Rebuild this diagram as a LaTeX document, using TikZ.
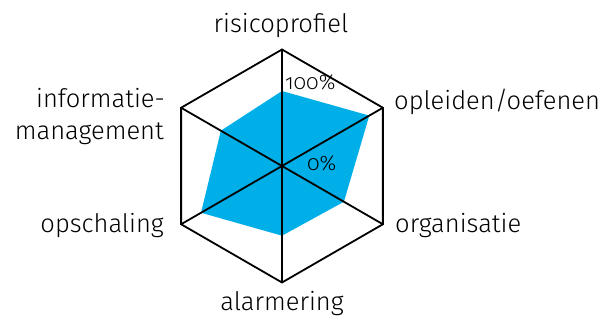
\documentclass[tikz,border=0pt]{standalone}
\usepackage{fontspec}
\setmainfont{Fira Sans Light}[BoldFont=Fira Sans]
\newfontfamily\pctfont[Numbers=OldStyle]{Fira Sans Light}
\usetikzlibrary{positioning}

\definecolor{spiderblue}{RGB}{0,174,232}

\tikzset{
  axisline/.style={draw=black,line width=1.8pt,line join=miter},
  score/.style={fill=spiderblue},
  axislabel/.style={inner sep=0pt,font=\fontsize{25.5}{32}\selectfont},
  pct/.style={inner sep=0pt,font=\pctfont\fontsize{21}{24}\selectfont}
}

\begin{document}
\begin{tikzpicture}[x=1pt,y=1pt]

      \useasboundingbox (0,0) rectangle (607,-320);

      \begin{scope}[shift={(282,-166)}]
        % corners of the hexagon
        \coordinate (c)  at (0,0);
        \coordinate (rp) at (90:116.5);
        \coordinate (oo) at (30:116.5);
        \coordinate (og) at (-30:116.5);
        \coordinate (al) at (-90:116.5);
        \coordinate (os) at (210:116.5);
        \coordinate (im) at (150:116.5);

        % scores
        \coordinate (s1) at (90:75);
        \coordinate (s2) at (30:100.8);
        \coordinate (s3) at (-30:71.5);
        \coordinate (s4) at (-90:69.7);
        \coordinate (s5) at (210:93.5);
        \coordinate (s6) at (150:70.6);

        \path[score] (s1) -- (s2) -- (s3) -- (s4) -- (s5) -- (s6) -- cycle;

        \path[axisline] (rp) -- (oo) -- (og) -- (al) -- (os) -- (im) -- cycle;
        \path[axisline] (rp) -- (al);
        \path[axisline] (oo) -- (os);
        \path[axisline] (og) -- (im);
      \end{scope}

      \begin{scope}[every node/.style={axislabel}]
        \node[anchor=base]       (t1) at (281,-33)  {risicoprofiel};
        \node[anchor=base west]  (t2) at (394,-110) {opleiden/oefenen};
        \node[anchor=base west]  (t3) at (395,-233) {organisatie};
        \node[anchor=base]       (t4) at (282,-310) {alarmering};
        \node[anchor=base east]  (t5) at (164,-233) {opschaling};
        \node[anchor=base east]  (t6) at (165,-108) {informatie-};
        \node[anchor=base east]  (t7) at (164,-140) {management};
      \end{scope}

      \begin{scope}[every node/.style={pct}]
        \node[anchor=base west] (p1) at (285,-90)  {100\%};
        \node[anchor=base west] (p2) at (307,-171) {0\%};
      \end{scope}

    \end{tikzpicture}
\end{document}
